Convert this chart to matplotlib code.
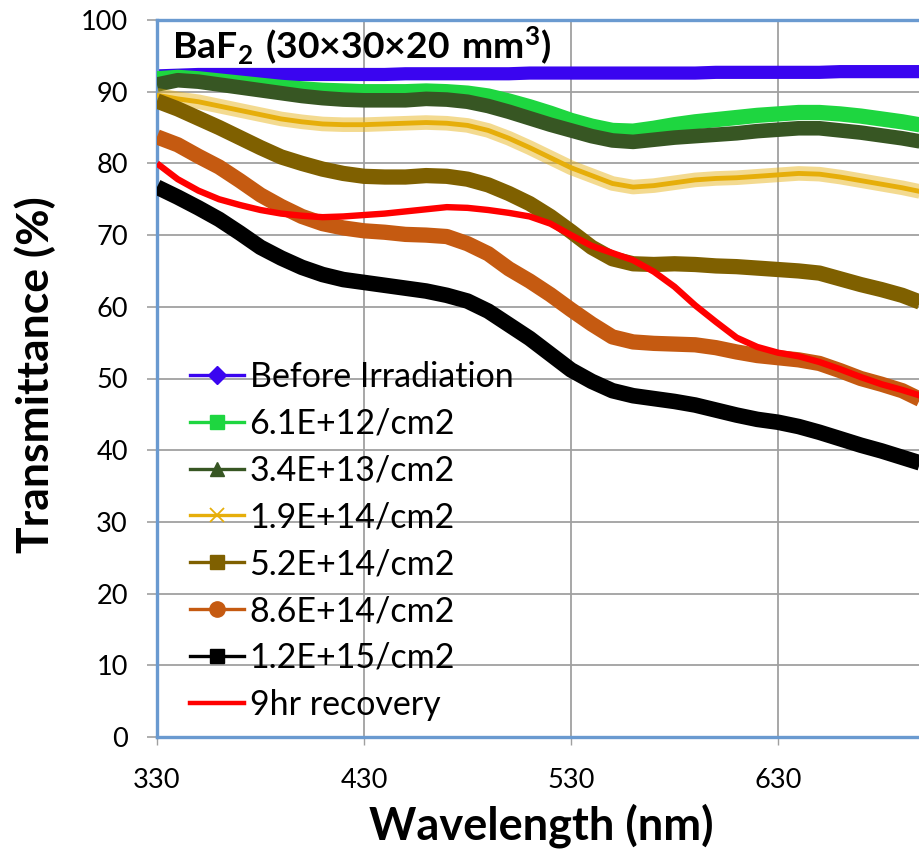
import matplotlib
matplotlib.use("Agg")
import matplotlib.pyplot as plt
from matplotlib.lines import Line2D
import numpy as np

plt.rcParams['font.family'] = ['Lato', 'DejaVu Sans']
plt.rcParams['mathtext.fontset'] = 'custom'
plt.rcParams['mathtext.rm'] = 'Lato'
plt.rcParams['mathtext.bf'] = 'Lato:bold'

wavelength = list(range(330, 701, 10))

before_irr = [92.2, 92.3, 92.4, 92.4, 92.4, 92.4, 92.4, 92.4, 92.4, 92.4,
              92.4, 92.4, 92.5, 92.5, 92.5, 92.5, 92.5, 92.5, 92.6, 92.6,
              92.6, 92.6, 92.6, 92.6, 92.6, 92.6, 92.6, 92.7, 92.7, 92.7,
              92.7, 92.7, 92.7, 92.8, 92.8, 92.8, 92.8, 92.8]
f_6_1e12 = [91.8, 92.0, 91.8, 91.5, 91.2, 90.9, 90.6, 90.4, 90.2, 90.1,
            90.0, 90.0, 90.0, 90.1, 90.0, 89.8, 89.4, 88.7, 87.9, 87.0,
            86.0, 85.2, 84.6, 84.5, 84.9, 85.4, 85.8, 86.1, 86.4, 86.7,
            86.9, 87.1, 87.1, 86.9, 86.6, 86.2, 85.8, 85.3]
f_3_4e13 = [91.0, 91.6, 91.4, 91.0, 90.6, 90.2, 89.8, 89.4, 89.1, 88.9,
            88.8, 88.8, 88.8, 89.0, 88.9, 88.6, 88.0, 87.2, 86.3, 85.4,
            84.6, 83.8, 83.2, 83.0, 83.3, 83.6, 83.8, 84.0, 84.2, 84.5,
            84.7, 84.9, 84.9, 84.6, 84.3, 83.9, 83.5, 83.0]
f_1_9e14 = [89.5, 89.0, 88.6, 88.0, 87.4, 86.8, 86.2, 85.8, 85.5, 85.4,
            85.4, 85.5, 85.6, 85.7, 85.6, 85.3, 84.6, 83.5, 82.2, 80.8,
            79.4, 78.3, 77.2, 76.7, 76.9, 77.3, 77.7, 77.9, 78.0, 78.2,
            78.4, 78.6, 78.5, 78.1, 77.6, 77.1, 76.6, 76.0]
f_5_2e14 = [88.7, 87.6, 86.3, 85.0, 83.6, 82.2, 80.9, 80.0, 79.2, 78.6,
            78.2, 78.1, 78.1, 78.3, 78.2, 77.8, 77.0, 75.8, 74.4, 72.6,
            70.5, 68.3, 66.7, 66.0, 65.9, 66.0, 65.9, 65.7, 65.6, 65.4,
            65.2, 65.0, 64.7, 63.9, 63.1, 62.4, 61.6, 60.5]
f_8_6e14 = [83.7, 82.6, 81.0, 79.5, 77.6, 75.6, 74.0, 72.6, 71.6, 71.0,
            70.6, 70.4, 70.1, 70.0, 69.8, 68.8, 67.4, 65.3, 63.6, 61.7,
            59.6, 57.6, 55.8, 55.1, 54.9, 54.8, 54.7, 54.3, 53.7, 53.2,
            52.9, 52.6, 52.1, 51.1, 50.0, 49.2, 48.3, 46.9]
f_1_2e15 = [76.7, 75.3, 73.8, 72.2, 70.3, 68.3, 66.8, 65.5, 64.5, 63.8,
            63.4, 63.0, 62.6, 62.2, 61.6, 60.8, 59.4, 57.5, 55.6, 53.4,
            51.2, 49.6, 48.3, 47.6, 47.2, 46.8, 46.3, 45.6, 44.9, 44.3,
            43.9, 43.3, 42.5, 41.6, 40.7, 39.9, 39.0, 38.1]
recovery_9hr = [80.0, 77.8, 76.2, 75.0, 74.2, 73.5, 73.0, 72.7, 72.5, 72.6,
                72.8, 73.0, 73.3, 73.6, 73.9, 73.8, 73.5, 73.1, 72.6, 71.6,
                70.0, 68.5, 67.5, 66.5, 64.9, 62.8, 60.2, 57.9, 55.7, 54.4,
                53.6, 53.1, 52.3, 51.3, 50.2, 49.2, 48.4, 47.5]

labels = ["Before Irradiation", "6.1E+12/cm2", "3.4E+13/cm2", "1.9E+14/cm2",
          "5.2E+14/cm2", "8.6E+14/cm2", "1.2E+15/cm2", "9hr recovery"]
series = [before_irr, f_6_1e12, f_3_4e13, f_1_9e14, f_5_2e14, f_8_6e14,
          f_1_2e15, recovery_9hr]
colors = ['#3A05F0', '#1ED640', '#375623', '#E6AE0A', '#7F6000', '#C55A11',
          '#000000', '#FF0000']
markers = ['D', 's', '^', 'x', 's', 'o', 's', None]
band_lw = [9.5, 11.0, 10.5, 3.5, 11.0, 11.0, 11.2, 4.6]

xticks = [330, 430, 530, 630]
yticks = list(range(0, 101, 10))

fig = plt.figure(figsize=(9.19, 8.5), dpi=100)
W, H = 919, 850
x0_px, y0_px, ytop_px = 157, 737, 20
px_per_nm = 2.07
xmax = 730
ax = fig.add_axes([x0_px / W, (H - y0_px) / H,
                   (xmax - 330) * px_per_nm / W, (y0_px - ytop_px) / H])
ax.set_xlim(330, xmax)
ax.set_ylim(0, 100)

for i, (vals, c, lw) in enumerate(zip(series, colors, band_lw)):
    if markers[i] == 'x':
        ax.plot(wavelength, vals, color=c, lw=10.5, alpha=0.45,
                solid_capstyle='butt', zorder=2 + i)
    ax.plot(wavelength, vals, color=c, lw=lw, solid_capstyle='butt',
            solid_joinstyle='round', zorder=2 + i)

ax.set_xticks(xticks)
ax.set_yticks(yticks)
ax.grid(True, color='#A0A0A0', lw=1.3, zorder=0)
ax.set_axisbelow(True)
for s in ax.spines.values():
    s.set_color('#6A9AD0')
    s.set_linewidth(2.4)
ax.tick_params(axis='y', direction='out', length=7, width=1.2, color='#A0A0A0',
               labelsize=19.5, pad=14)
ax.tick_params(axis='x', direction='out', length=6, width=1.0, color='#A0A0A0',
               labelsize=19.5, pad=16)

fig.text(541 / W, (H - 826) / H, "Wavelength (nm)", fontsize=32.5,
         fontweight='bold', ha='center', va='center')
fig.text(35 / W, (H - 375) / H, "Transmittance (%)", fontsize=32,
         fontweight='bold', ha='center', va='center', rotation=90)
fig.text(172 / W, (H - 58) / H,
         r"$\mathbf{BaF_2\ (30×30×20\ mm^3)}$", fontsize=26.9,
         ha='left', va='baseline')

handles = []
for i in range(len(labels)):
    if markers[i] is None:
        h = Line2D([], [], color=colors[i], lw=3.2)
    elif markers[i] == 'x':
        h = Line2D([], [], color=colors[i], lw=2.4, marker='x', ms=10,
                   mew=1.3)
    else:
        ms = {'D': 9, 's': 10, '^': 10, 'o': 11}[markers[i]]
        h = Line2D([], [], color=colors[i], lw=2.4, marker=markers[i],
                   ms=ms, mec=colors[i], mfc=colors[i])
    handles.append(h)
leg = ax.legend(handles, labels, loc='upper left',
                bbox_to_anchor=(190 / W, (H - 361) / H),
                bbox_transform=fig.transFigure, frameon=False,
                fontsize=24.5, handlelength=1.6, handletextpad=0.15,
                labelspacing=0.435, borderpad=0, borderaxespad=0)

fig.savefig("out.png", dpi=100)
